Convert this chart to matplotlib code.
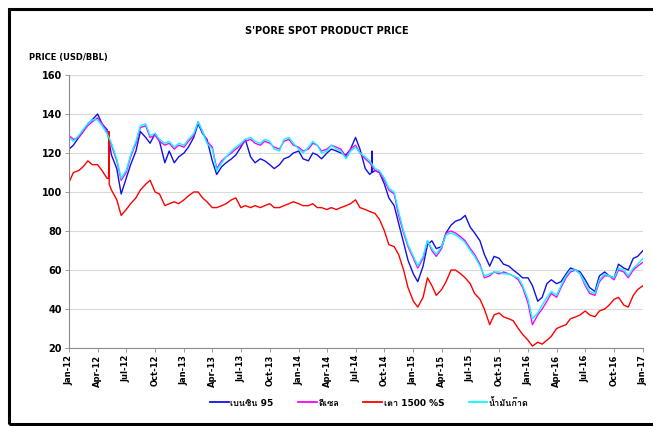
import matplotlib
matplotlib.use("Agg")
import matplotlib.dates as mdates
import pandas as pd
from matplotlib import font_manager as fm
from matplotlib import pyplot as plt
from matplotlib.ft2font import FT2Font
from matplotlib.patches import Rectangle

# semi-monthly readings, Jan-12 .. Jan-17 (USD/BBL)
dates = pd.date_range("2012-01-01", "2017-01-01", freq="SMS")

gasoline95 = [
    122, 124, 128, 131, 135, 137, 140, 135, 132, 119, 112, 99,
    107, 114, 121, 131, 128, 125, 130, 126, 115, 121, 115, 118,
    120, 123, 128, 135, 130, 127, 116, 109, 113, 115, 117, 119,
    123, 127, 118, 115, 117, 116, 114, 112, 114, 117, 118, 120,
    121, 117, 116, 120, 119, 117, 120, 122, 121, 120, 119, 122,
    128, 122, 112, 109, 111, 110, 104, 97, 93, 84, 74, 65,
    58, 54, 62, 73, 75, 71, 72, 79, 83, 85, 86, 88,
    82, 79, 75, 68, 62, 67, 66, 63, 62, 60, 58, 56,
    56, 52, 44, 46, 53, 55, 53, 54, 58, 61, 60, 59,
    55, 51, 49, 57, 59, 57, 56, 63, 61, 60, 66, 67,
    70,
]
diesel = [
    129, 127, 128, 131, 134, 136, 138, 135, 131, 124, 116, 106,
    110, 118, 125, 133, 134, 128, 129, 126, 124, 125, 122, 124,
    123, 126, 129, 136, 131, 126, 123, 112, 116, 118, 120, 122,
    124, 126, 127, 125, 124, 126, 125, 123, 122, 126, 127, 124,
    123, 121, 122, 125, 124, 121, 122, 124, 123, 122, 118, 122,
    124, 120, 117, 115, 111, 110, 106, 101, 99, 88, 79, 72,
    66, 61, 66, 75, 70, 67, 71, 79, 80, 79, 77, 75,
    71, 68, 63, 56, 57, 59, 58, 59, 58, 57, 55, 51,
    43, 32, 37, 40, 44, 48, 46, 51, 56, 59, 60, 58,
    52, 48, 47, 54, 57, 57, 55, 60, 59, 56, 60, 62,
    64,
]
fuel_oil = [
    105, 110, 111, 113, 116, 114, 114, 111, 107, 101, 96, 88,
    91, 94, 97, 101, 104, 106, 100, 99, 93, 94, 95, 94,
    96, 98, 100, 100, 97, 95, 92, 92, 93, 94, 96, 97,
    92, 93, 92, 93, 92, 93, 94, 92, 92, 93, 94, 95,
    94, 93, 93, 94, 92, 92, 91, 92, 91, 92, 93, 94,
    96, 92, 91, 90, 89, 86, 80, 73, 72, 68, 60, 51,
    44, 41, 46, 56, 52, 47, 50, 54, 60, 60, 58, 56,
    53, 48, 45, 40, 32, 37, 38, 36, 35, 34, 30, 27,
    24, 21, 23, 22, 24, 26, 30, 31, 32, 35, 36, 37,
    39, 37, 36, 39, 40, 42, 45, 46, 42, 41, 47, 50,
    52,
]
kerosene = [
    128, 126, 129, 132, 135, 137, 137, 134, 130, 125, 117, 107,
    111, 119, 126, 134, 135, 129, 130, 127, 125, 126, 123, 125,
    124, 127, 130, 136, 131, 125, 122, 111, 115, 118, 121, 123,
    125, 127, 128, 126, 125, 127, 126, 122, 121, 127, 128, 125,
    122, 120, 123, 126, 124, 120, 121, 124, 122, 121, 117, 121,
    123, 120, 118, 116, 112, 111, 107, 102, 100, 90, 80, 73,
    67, 62, 67, 75, 71, 68, 72, 78, 79, 78, 76, 74,
    70, 67, 62, 57, 58, 59, 59, 58, 58, 57, 56, 52,
    45, 35, 38, 42, 46, 49, 47, 52, 57, 60, 60, 58,
    53, 49, 48, 55, 58, 57, 56, 61, 60, 57, 61, 63,
    66,
]

# one-day spikes seen on the chart
fo_spike_dates = ["2012-05-06", "2012-05-07", "2012-05-08"]
fo_spike_vals = [107, 131, 104]
gas_spike_dates = ["2014-08-21", "2014-08-22", "2014-08-23"]
gas_spike_vals = [110, 121, 110]

labels = ["เบนซิน 95", "ดีเซล", "เตา 1500 %S", "น้ำมันก๊าด"]
colors = ["#1010e8", "#ff00ff", "#ff0000", "#00ffff"]


def find_thai_font():
    for f in fm.fontManager.ttflist:
        try:
            if ord("เ") in FT2Font(f.fname).get_charmap():
                return f.name
        except Exception:
            pass
    return None


thai = find_thai_font()
families = ["DejaVu Sans"] + ([thai] if thai else [])


def with_spike(values, spike_dates, spike_vals):
    s = pd.Series(values, index=dates, dtype=float)
    extra = pd.Series(spike_vals, index=pd.to_datetime(spike_dates), dtype=float)
    return pd.concat([s, extra]).sort_index()


series = [
    with_spike(gasoline95, gas_spike_dates, gas_spike_vals),
    pd.Series(diesel, index=dates, dtype=float),
    with_spike(fuel_oil, fo_spike_dates, fo_spike_vals),
    pd.Series(kerosene, index=dates, dtype=float),
]

fig = plt.figure(figsize=(6.53, 4.26), dpi=100)
ax = fig.add_axes([0.1057, 0.183, 0.879, 0.641])

for s, lab, c in zip(series, labels, colors):
    ax.plot(s.index, s.values, color=c, linewidth=1.0, label=lab)

ax.set_xlim(pd.Timestamp("2012-01-01"), pd.Timestamp("2017-01-01"))
ax.set_ylim(20, 160)
ax.set_yticks(range(20, 161, 20))
ax.xaxis.set_major_locator(mdates.MonthLocator(bymonth=[1, 4, 7, 10]))
ax.xaxis.set_major_formatter(mdates.DateFormatter("%b-%y"))

ax.grid(axis="y", color="#d9d9d9", linewidth=0.8)
ax.set_axisbelow(True)
for side in ["top", "right"]:
    ax.spines[side].set_visible(False)
for side in ["left", "bottom"]:
    ax.spines[side].set_color("#8c8c8c")
    ax.spines[side].set_linewidth(0.8)

ax.tick_params(axis="both", length=3, width=0.6, color="#8c8c8c", pad=2)
for t in ax.get_yticklabels():
    t.set_fontsize(7)
    t.set_fontweight("bold")
for t in ax.get_xticklabels():
    t.set_fontsize(6)
    t.set_fontweight("bold")
    t.set_rotation(90)

fig.text(0.5, 0.927, "S'PORE SPOT PRODUCT PRICE", ha="center", va="center",
         fontsize=7, fontweight="bold")
fig.text(0.044, 0.866, "PRICE (USD/BBL)", ha="left", va="center",
         fontsize=6, fontweight="bold")

leg = ax.legend(loc="center", bbox_to_anchor=(0.523, -0.20), ncol=4, frameon=False,
                handlelength=2.1, handletextpad=0.15, columnspacing=2.7,
                prop={"family": families, "size": 6.5, "weight": "bold"})
for line in leg.get_lines():
    line.set_linewidth(1.3)

# black frame round the chart (open on the right)
fig.patches.append(Rectangle((9 / 653, 2 / 426), 1.2, 415 / 426, transform=fig.transFigure,
                             fill=False, edgecolor="black", linewidth=2.2, clip_on=False))

fig.savefig("out.png", dpi=100)
